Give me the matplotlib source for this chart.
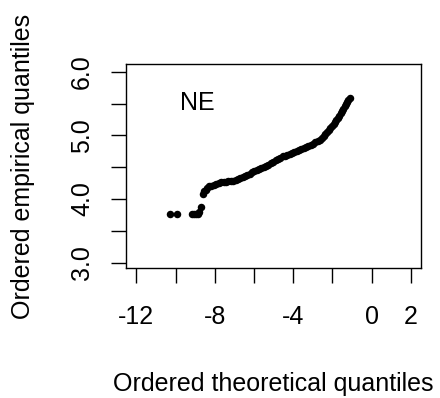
import matplotlib
matplotlib.use("Agg")
import matplotlib.pyplot as plt

plt.rcParams["font.family"] = ["Liberation Sans", "DejaVu Sans"]

# ordered theoretical vs empirical quantiles, NE region
theoretical = [
    -10.30, -9.93, -9.16, -9.05, -8.94, -8.84, -8.78, -8.72,
    -8.62, -8.55, -8.47, -8.40, -8.30, -8.18, -8.05, -7.92, -7.80, -7.68,
    -7.55, -7.42, -7.30, -7.18, -7.06, -6.94, -6.82, -6.70, -6.58, -6.46,
    -6.34, -6.22, -6.10, -5.98, -5.86, -5.74, -5.62, -5.50, -5.38, -5.26,
    -5.14, -5.02, -4.90, -4.78, -4.66, -4.54, -4.42, -4.30, -4.18, -4.06,
    -3.94, -3.82, -3.70, -3.58, -3.46, -3.34, -3.22, -3.10, -2.98, -2.86,
    -2.75, -2.64, -2.54, -2.44, -2.35, -2.26, -2.18, -2.10, -2.02, -1.94,
    -1.86, -1.79, -1.72, -1.65, -1.58, -1.51, -1.44, -1.37, -1.30, -1.24,
    -1.18, -1.12,
]
empirical = [
    3.76, 3.76, 3.76, 3.76, 3.76, 3.77, 3.80, 3.87,
    4.08, 4.12, 4.15, 4.17, 4.20, 4.21, 4.22, 4.24, 4.26, 4.27,
    4.27, 4.27, 4.28, 4.28, 4.29, 4.30, 4.31, 4.33, 4.35, 4.37,
    4.38, 4.40, 4.42, 4.44, 4.45, 4.47, 4.49, 4.50, 4.52, 4.54,
    4.56, 4.58, 4.61, 4.63, 4.65, 4.67, 4.68, 4.70, 4.71, 4.72,
    4.74, 4.76, 4.77, 4.79, 4.80, 4.82, 4.84, 4.85, 4.87, 4.89,
    4.91, 4.93, 4.96, 4.99, 5.02, 5.06, 5.09, 5.12, 5.15, 5.18,
    5.22, 5.25, 5.28, 5.31, 5.35, 5.39, 5.42, 5.46, 5.50, 5.53,
    5.56, 5.59,
]

x_ticks = [-12, -10, -8, -6, -4, -2, 0, 2]
x_labels = ["-12", "", "-8", "", "-4", "", "0", "2"]
y_ticks = [3.0, 3.5, 4.0, 4.5, 5.0, 5.5, 6.0]
y_labels = ["3.0", "", "4.0", "", "5.0", "", "6.0"]

FS = 18

fig = plt.figure(figsize=(4.4, 3.98), dpi=100)
ax = fig.add_axes([0.2864, 0.3266, 0.6693, 0.5126])

ax.plot(theoretical, empirical, "o", color="black", ms=5.4, mew=0)
ax.text(-8.9, 5.51, "NE", fontsize=FS, ha="center", va="center")

ax.set_xlim(-12.53, 2.5)
ax.set_ylim(2.915, 6.125)
ax.set_xticks(x_ticks)
ax.set_xticklabels(x_labels)
ax.set_yticks(y_ticks)
ax.set_yticklabels(y_labels, rotation=90, va="center")
ax.tick_params(direction="out", length=11, width=1, labelsize=FS)
ax.tick_params(axis="x", pad=15.5)
ax.tick_params(axis="y", pad=12)

for s in ax.spines.values():
    s.set_linewidth(1)

ax.set_xlabel("Ordered theoretical quantiles", fontsize=FS, labelpad=31)
ax.set_ylabel("Ordered empirical quantiles", fontsize=FS, labelpad=25)

fig.savefig("out.png", dpi=100)
